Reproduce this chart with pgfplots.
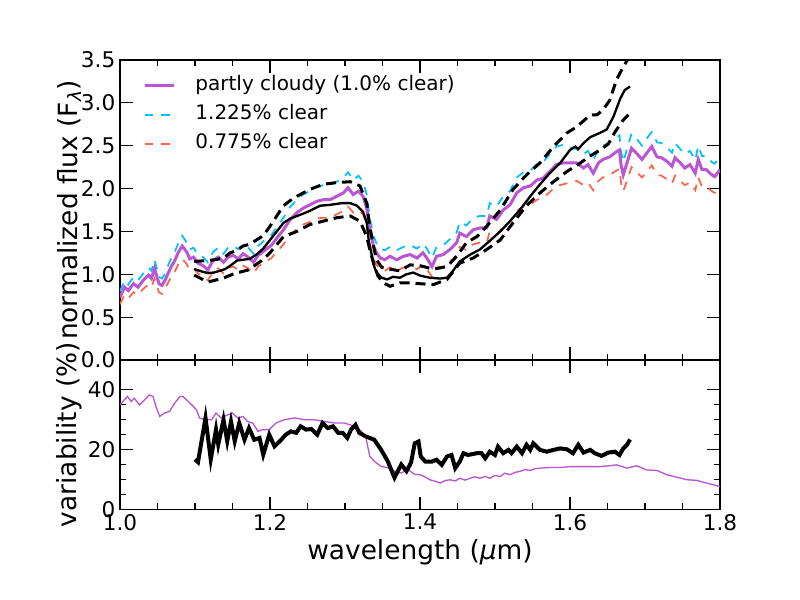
\documentclass[border=0pt]{standalone}
\usepackage{pgfplots}
\pgfplotsset{compat=1.18}
\usepackage{pgfplotstable}
\usepackage{fontspec}
\setmainfont{DejaVu Sans}

\definecolor{pc}{HTML}{BA55D3}
\definecolor{cc}{HTML}{00BFFF}
\definecolor{sc}{HTML}{FF6347}
\newcommand\ff{\fontsize{15}{18}\selectfont}
\newcommand\tf{\fontsize{16.2}{19}\selectfont}
\newcommand\lf{\fontsize{19.8}{23}\selectfont}

% flux spectra: x, partly cloudy, 1.225% clear, 0.775% clear
\pgfplotstableread{
x p c s
1.000 0.73 0.80 0.65
1.006 0.85 0.93 0.76
1.011 0.81 0.88 0.72
1.018 0.89 0.97 0.79
1.024 0.85 0.93 0.76
1.031 0.93 1.01 0.83
1.038 0.99 1.08 0.88
1.042 0.95 1.04 0.85
1.046 1.07 1.17 0.95
1.052 0.89 0.97 0.79
1.056 0.87 0.95 0.77
1.060 0.93 1.01 0.83
1.064 1.01 1.10 0.90
1.069 1.10 1.20 0.98
1.073 1.16 1.26 1.03
1.078 1.26 1.37 1.12
1.083 1.33 1.45 1.18
1.089 1.26 1.37 1.12
1.093 1.18 1.29 1.05
1.098 1.20 1.31 1.07
1.104 1.13 1.23 1.01
1.111 1.10 1.20 0.98
1.117 1.05 1.14 0.93
1.124 1.16 1.26 1.03
1.131 1.20 1.31 1.07
1.138 1.14 1.24 1.01
1.144 1.20 1.31 1.07
1.151 1.22 1.33 1.09
1.158 1.18 1.29 1.05
1.164 1.24 1.35 1.10
1.171 1.20 1.31 1.07
1.178 1.14 1.24 1.01
1.184 1.22 1.33 1.09
1.193 1.28 1.40 1.14
1.202 1.34 1.46 1.19
1.209 1.42 1.55 1.26
1.218 1.52 1.66 1.35
1.227 1.64 1.79 1.46
1.236 1.72 1.87 1.53
1.244 1.77 1.93 1.58
1.253 1.81 1.97 1.61
1.262 1.85 2.02 1.65
1.271 1.87 2.04 1.66
1.280 1.87 2.04 1.66
1.289 1.91 2.08 1.70
1.298 1.95 2.13 1.74
1.304 2.01 2.19 1.79
1.311 1.93 2.10 1.72
1.318 1.97 2.15 1.75
1.324 1.91 2.08 1.70
1.329 1.77 1.93 1.58
1.333 1.52 1.66 1.35
1.338 1.33 1.45 1.18
1.342 1.25 1.36 1.11
1.347 1.19 1.30 1.06
1.353 1.17 1.28 1.04
1.360 1.21 1.32 1.08
1.369 1.17 1.28 1.04
1.378 1.21 1.32 1.08
1.387 1.23 1.34 1.09
1.396 1.19 1.30 1.06
1.404 1.25 1.36 1.11
1.409 1.19 1.30 1.06
1.416 1.09 1.19 0.97
1.422 1.21 1.32 1.08
1.431 1.23 1.34 1.09
1.440 1.29 1.41 1.15
1.449 1.37 1.49 1.22
1.453 1.48 1.61 1.32
1.462 1.44 1.57 1.28
1.471 1.52 1.66 1.35
1.480 1.54 1.68 1.37
1.489 1.54 1.68 1.37
1.493 1.68 1.83 1.50
1.502 1.64 1.79 1.46
1.511 1.75 1.91 1.56
1.520 1.81 1.97 1.61
1.529 1.95 2.13 1.74
1.538 2.01 2.19 1.79
1.547 2.03 2.21 1.81
1.556 2.10 2.29 1.87
1.564 2.12 2.31 1.89
1.573 2.20 2.40 1.96
1.582 2.28 2.49 2.03
1.591 2.30 2.51 2.05
1.600 2.30 2.48 2.07
1.609 2.30 2.46 2.09
1.618 2.24 2.40 2.04
1.624 2.28 2.44 2.07
1.631 2.18 2.33 1.98
1.638 2.30 2.46 2.09
1.644 2.34 2.50 2.13
1.653 2.37 2.54 2.16
1.662 2.43 2.60 2.21
1.666 2.45 2.62 2.23
1.668 2.28 2.44 2.07
1.671 2.16 2.31 1.97
1.676 2.30 2.46 2.09
1.682 2.47 2.64 2.25
1.689 2.41 2.58 2.19
1.696 2.34 2.50 2.13
1.702 2.41 2.58 2.19
1.709 2.49 2.66 2.27
1.716 2.37 2.54 2.16
1.722 2.36 2.53 2.15
1.729 2.32 2.48 2.11
1.736 2.26 2.42 2.06
1.740 2.36 2.53 2.15
1.747 2.30 2.46 2.09
1.753 2.24 2.40 2.04
1.760 2.28 2.44 2.07
1.767 2.18 2.33 1.98
1.771 2.34 2.50 2.13
1.776 2.22 2.38 2.02
1.782 2.22 2.38 2.02
1.789 2.16 2.31 1.97
1.793 2.14 2.29 1.95
1.800 2.22 2.38 2.02
}\spec

% black model: mean
\pgfplotstableread{
x y
1.099 1.06
1.110 1.03
1.117 1.015
1.125 1.02
1.133 1.04
1.140 1.06
1.147 1.10
1.156 1.16
1.164 1.17
1.173 1.18
1.182 1.23
1.191 1.30
1.200 1.40
1.209 1.50
1.218 1.60
1.227 1.65
1.236 1.68
1.245 1.71
1.253 1.74
1.260 1.77
1.267 1.80
1.280 1.81
1.296 1.83
1.307 1.83
1.316 1.80
1.324 1.73
1.329 1.60
1.332 1.37
1.336 1.21
1.339 1.09
1.342 1.02
1.349 0.96
1.356 0.94
1.364 0.97
1.373 0.96
1.382 1.00
1.391 1.02
1.400 0.985
1.413 0.96
1.427 0.95
1.436 0.96
1.444 1.04
1.453 1.15
1.467 1.23
1.480 1.29
1.493 1.39
1.507 1.50
1.520 1.62
1.533 1.75
1.547 1.91
1.560 2.05
1.573 2.18
1.587 2.30
1.600 2.45
1.607 2.49
1.611 2.46
1.618 2.53
1.627 2.60
1.640 2.65
1.649 2.69
1.658 2.84
1.667 3.05
1.673 3.15
1.680 3.19
}\bkmid

\pgfplotstableread{
x y
1.099 1.15
1.117 1.16
1.127 1.17
1.138 1.19
1.147 1.25
1.156 1.28
1.164 1.33
1.173 1.35
1.182 1.40
1.191 1.45
1.200 1.56
1.209 1.68
1.218 1.80
1.227 1.86
1.236 1.91
1.253 1.99
1.271 2.05
1.289 2.07
1.307 2.08
1.320 2.03
1.329 1.83
1.333 1.56
1.338 1.33
1.342 1.17
1.349 1.08
1.360 1.06
1.373 1.04
1.387 1.11
1.400 1.10
1.418 1.06
1.436 1.09
1.449 1.21
1.462 1.37
1.476 1.44
1.489 1.56
1.507 1.75
1.524 1.99
1.542 2.16
1.560 2.30
1.578 2.49
1.596 2.65
1.609 2.72
1.627 2.86
1.636 2.86
1.644 2.92
1.653 3.03
1.662 3.27
1.671 3.42
1.680 3.55
}\bkup

\pgfplotstableread{
x y
1.099 0.99
1.117 0.91
1.136 0.95
1.153 1.01
1.171 1.05
1.189 1.16
1.200 1.25
1.218 1.44
1.236 1.50
1.253 1.58
1.271 1.62
1.289 1.66
1.307 1.68
1.320 1.62
1.329 1.44
1.333 1.29
1.338 1.13
1.344 0.98
1.351 0.90
1.360 0.86
1.373 0.90
1.387 0.90
1.400 0.89
1.418 0.88
1.436 0.94
1.453 1.13
1.471 1.19
1.489 1.29
1.507 1.40
1.524 1.60
1.542 1.80
1.560 1.95
1.578 2.08
1.596 2.20
1.609 2.27
1.627 2.38
1.640 2.45
1.651 2.52
1.660 2.66
1.671 2.80
1.678 2.86
}\bklo

% variability (%)
\pgfplotstableread{
x y
1.000 35.0
1.006 36.7
1.010 37.8
1.015 36.1
1.019 37.2
1.026 35.0
1.033 36.7
1.039 38.3
1.044 37.8
1.048 34.4
1.053 31.1
1.059 32.2
1.066 32.8
1.073 35.6
1.080 37.8
1.084 37.8
1.091 36.1
1.098 34.4
1.102 33.3
1.106 30.6
1.113 30.0
1.122 30.0
1.128 32.2
1.135 30.6
1.144 31.7
1.150 32.2
1.157 30.6
1.164 31.1
1.170 29.4
1.177 28.9
1.184 26.1
1.190 26.7
1.199 26.7
1.208 28.9
1.219 30.0
1.233 30.6
1.246 30.0
1.259 30.0
1.273 29.4
1.286 28.9
1.299 28.9
1.313 27.8
1.322 26.1
1.328 23.9
1.333 17.8
1.339 16.1
1.348 14.4
1.357 13.9
1.366 12.8
1.375 12.2
1.384 13.3
1.393 11.7
1.400 11.6
1.407 10.8
1.413 9.9
1.420 9.4
1.427 8.8
1.433 9.6
1.440 9.9
1.447 9.5
1.453 10.4
1.460 9.8
1.467 10.4
1.473 10.9
1.480 10.4
1.487 11.0
1.493 10.4
1.500 11.3
1.507 11.0
1.513 12.1
1.520 11.6
1.527 12.4
1.533 12.7
1.540 13.3
1.547 13.0
1.553 13.6
1.560 13.8
1.573 14.0
1.587 14.0
1.600 14.3
1.613 14.3
1.627 14.3
1.640 14.3
1.653 14.6
1.662 14.9
1.676 13.8
1.689 14.6
1.702 13.2
1.716 13.0
1.729 11.6
1.742 10.8
1.756 9.9
1.769 9.7
1.782 8.8
1.796 7.9
1.800 7.6
}\varp

\pgfplotstableread{
x y
1.100 16.7
1.104 15.8
1.114 30.6
1.121 16.7
1.128 26.7
1.131 21.7
1.138 30.0
1.143 22.8
1.148 29.4
1.153 22.8
1.159 28.9
1.166 23.3
1.172 27.2
1.179 23.3
1.186 23.9
1.191 18.3
1.199 25.0
1.206 21.1
1.215 23.3
1.221 25.0
1.228 26.1
1.235 25.6
1.241 27.8
1.248 26.7
1.255 26.9
1.263 25.0
1.270 28.9
1.277 27.2
1.284 27.8
1.291 25.6
1.297 25.6
1.303 23.9
1.308 26.7
1.314 28.3
1.319 25.6
1.328 24.4
1.339 23.3
1.348 20.0
1.357 16.1
1.366 10.6
1.375 15.0
1.382 12.8
1.388 15.6
1.393 22.1
1.398 22.7
1.401 17.7
1.407 16.0
1.416 16.0
1.422 16.6
1.429 14.9
1.436 17.7
1.442 18.2
1.447 13.8
1.453 16.0
1.458 18.8
1.464 18.2
1.476 18.8
1.482 18.8
1.487 17.1
1.493 19.3
1.500 18.2
1.504 21.0
1.511 18.8
1.518 19.9
1.522 18.8
1.529 21.0
1.536 18.8
1.542 21.6
1.547 19.9
1.551 22.1
1.560 19.9
1.569 19.3
1.578 19.9
1.587 20.4
1.596 20.1
1.604 18.8
1.611 21.6
1.618 19.0
1.627 19.9
1.633 18.8
1.642 17.9
1.651 19.0
1.660 19.3
1.666 18.2
1.671 20.4
1.676 21.6
1.680 23.4
}\varm

\pgfplotsset{
  pan/.style={
    scale only axis, width=450pt,
    xmin=1, xmax=1.8,
    xtick={1.0,1.2,1.4,1.6,1.8}, minor x tick num=3,
    tick align=inside,
    major tick length=9.5pt, minor tick length=4.5pt,
    every tick/.style={black, line width=0.9pt},
    axis line style={line width=1pt},
    tick label style={font=\tf},
    label style={font=\lf},
    /pgf/number format/assume math mode=true,
    every axis y label/.style={at={(axis description cs:0,0.5)}, xshift=-38pt, rotate=90, anchor=center, font=\lf},
    legend image code/.code={\draw[#1] (0pt,0pt) -- (21.75pt,0pt); \path[draw=none] (21.75pt,0pt) -- (38pt,0pt);},
  },
  dsh/.style={dash pattern=on 6.5pt off 6pt},
  bdsh/.style={dash pattern=on 7.5pt off 4.5pt},
}

\begin{document}
\begin{tikzpicture}
\useasboundingbox (-90pt,-180pt) rectangle (510pt,270pt);

\begin{axis}[pan,
  at={(0pt,0pt)}, anchor=south west, height=225pt,
  ymin=0, ymax=3.5, ytick={0,0.5,1,1.5,2,2.5,3,3.5},
  yticklabel style={/pgf/number format/.cd, fixed, fixed zerofill, precision=1},
  xticklabels={},
  ylabel={normalized flux (F\textsubscript{\textit{λ}})},
  legend style={at={(axis description cs:0,1)}, anchor=north west,
    xshift=17.25pt, yshift=-12pt, draw=none, fill=none, font=\ff,
    inner sep=0pt, row sep=7.25pt,
    nodes={inner sep=0pt, text height=11pt, text depth=3.5pt}},
  legend cell align=left,
]
\addlegendimage{pc, line width=2.25pt}
\addlegendentry{partly cloudy (1.0\% clear)}
\addlegendimage{cc, line width=1.3pt, dsh}
\addlegendentry{1.225\% clear}
\addlegendimage{sc, line width=1.3pt, dsh}
\addlegendentry{0.775\% clear}

\addplot[forget plot, cc, line width=1.3pt, dsh] table[x=x, y=c] {\spec};
\addplot[forget plot, sc, line width=1.3pt, dsh] table[x=x, y=s] {\spec};
\addplot[forget plot, pc, line width=2.25pt] table[x=x, y=p] {\spec};
\addplot[forget plot, black, line width=1.75pt] table {\bkmid};
\addplot[forget plot, black, line width=2.25pt, bdsh] table {\bkup};
\addplot[forget plot, black, line width=2.25pt, bdsh] table {\bklo};
\end{axis}

\begin{axis}[pan,
  at={(0pt,0pt)}, anchor=north west, height=112pt,
  ymin=0, ymax=50, ytick={0,20,40}, minor y tick num=3,
  xticklabel style={/pgf/number format/.cd, fixed, fixed zerofill, precision=1},
  ylabel={variability (\%)},
  xlabel={wavelength (\textit{μ}m)},
  xlabel style={at={(axis description cs:0.5,0)}, anchor=center, yshift=-32pt},
]
\addplot[pc, line width=1pt] table {\varp};
\addplot[black, line width=3pt] table {\varm};
\end{axis}
\end{tikzpicture}
\end{document}
